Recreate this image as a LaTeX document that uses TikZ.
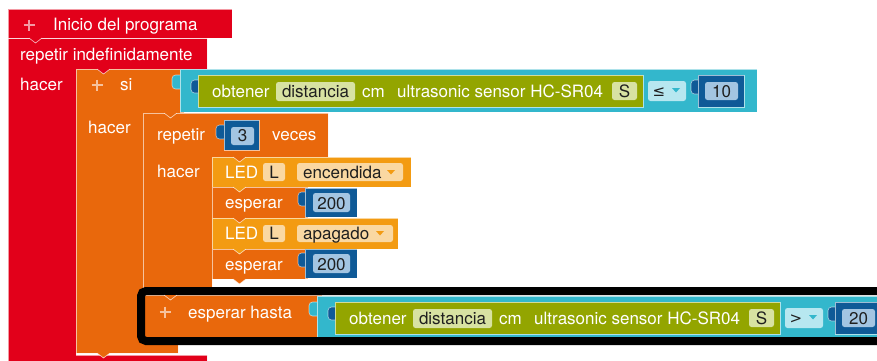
\documentclass[tikz,border=0pt]{standalone}
\usepackage{fontspec}
\setmainfont{TeX Gyre Heros}
\newfontfamily\symf{DejaVu Sans}
\definecolor{cRed}{HTML}{E2001A}
\definecolor{cOr}{HTML}{E9680C}
\definecolor{cLed}{HTML}{F39B12}
\definecolor{cCy}{HTML}{33B7CC}
\definecolor{cOl}{HTML}{93A500}
\definecolor{cBlue}{HTML}{0F5A97}
\definecolor{cOlF}{HTML}{D8E2A2}
\definecolor{cCyF}{HTML}{B7E7F0}
\definecolor{cBlueF}{HTML}{A3C5E2}
\definecolor{cLedF}{HTML}{FAD8A2}
\tikzset{
  blk/.style={line width=0.6pt, draw=white, draw opacity=0.6},
  wtxt/.style={anchor=base west, inner sep=0pt, text=white, font=\fontsize{17}{20}\selectfont},
  btxt/.style={anchor=base, inner sep=0pt, text=black!88, font=\fontsize{17}{20}\selectfont},
  fieldbox/.style={rounded corners=2.5pt},
}
\newcommand\vconn[3]{%
  \filldraw[fill=#3, draw=white, draw opacity=0.75, line width=0.6pt] (#1,#2) -- ++(6.5,5) -- ++(6.5,-5);}
\newcommand\plusmark[2]{%
  \draw[white, opacity=0.6, line width=2.4pt] (#1-5.5,#2) -- (#1+5.5,#2) (#1,#2-5.5) -- (#1,#2+5.5);}
\newcommand\ddarrow[3]{%
  \fill[#3] (#1-4,#2-2) -- (#1+4,#2-2) -- (#1,#2+2.5) -- cycle;}
\newcommand\sensorrow[5]{%
\begin{scope}[shift={(#1,#2)}]
  \filldraw[fill=cCy, blk, rounded corners=3.5pt] (172,75) rectangle (184,89);
  \filldraw[fill=cCy, blk] (180,69) rectangle (757,112);
  \filldraw[fill=cBlue, blk, rounded corners=3.5pt] (191,80) rectangle (202,93);
  \filldraw[fill=cOl, blk] (198,75) rectangle (643,107);
  \fill[cOlF, fieldbox] (276,82) rectangle (355,101);
  \fill[cOlF, fieldbox] (612,82) rectangle (637,100);
  \fill[cCyF, fieldbox] (648,81) rectangle (686,101);
  \ddarrow{676}{90}{cCy}
  \filldraw[fill=cBlue, blk, rounded corners=3.5pt] (691,80) rectangle (702,94);
  \filldraw[fill=cBlue, blk] (698,75) rectangle (744,107);
  \fill[cBlueF, fieldbox] (705,82) rectangle (738,100);
  \node[wtxt] (#5obt) at (212,97) {obtener};
  \node[btxt] (#5dist) at (315.5,97) {distancia};
  \node[wtxt] (#5cm) at (362,97) {cm};
  \node[wtxt] (#5us) at (397,97) {ultrasonic sensor HC-SR04};
  \node[btxt] (#5s) at (624.5,97) {S};
  \node[btxt, font=\symf\fontsize{15}{18}\selectfont] (#5op) at (659,96) {#3};
  \node[btxt] (#5num) at (721.5,97) {#4};
\end{scope}}
\begin{document}
\begin{tikzpicture}[x=1pt,y=-1pt]
\useasboundingbox (0,0) rectangle (877,360);
\clip (0,0) rectangle (877,360);
% red blocks
\filldraw[fill=cRed, blk] (8,38) -- (207,38) -- (207,69) -- (76,69) -- (76,355) -- (207,355) -- (207,380) -- (8,380) -- cycle;
\filldraw[fill=cRed, blk] (8,9) rectangle (232,38);
% si block
\filldraw[fill=cOr, blk] (76,69) -- (184,69) -- (184,113) -- (143,113) -- (143,340) -- (178,340) -- (178,353) -- (76,353) -- cycle;
% repetir block
\filldraw[fill=cOr, blk] (143,113) -- (328,113) -- (328,157) -- (212,157) -- (212,287) -- (250,287) -- (250,295) -- (143,295) -- cycle;
% value 3
\filldraw[fill=cBlue, blk, rounded corners=3.5pt] (216,125) rectangle (227,139);
\filldraw[fill=cBlue, blk] (224,120) rectangle (259,150);
\fill[cBlueF, fieldbox] (231,127) rectangle (254,145);
% LED / esperar blocks
\filldraw[fill=cLed, blk] (212,157) rectangle (411,187);
\filldraw[fill=cOr, blk] (212,187) rectangle (308,218);
\filldraw[fill=cLed, blk] (212,218) rectangle (398,249);
\filldraw[fill=cOr, blk] (212,249) rectangle (308,279);
\fill[cLedF, fieldbox] (263,163) rectangle (285,181);
\fill[cLedF, fieldbox] (297,163) rectangle (403,181);
\ddarrow{391}{172}{cLed}
\fill[cLedF, fieldbox] (263,225) rectangle (285,242);
\fill[cLedF, fieldbox] (297,225) rectangle (393,242);
\ddarrow{380}{233}{cLed}
\filldraw[fill=cBlue, blk, rounded corners=3.5pt] (298,192) rectangle (309,206);
\filldraw[fill=cBlue, blk] (305,188) rectangle (357,217);
\fill[cBlueF, fieldbox] (313,193) rectangle (350,212);
\filldraw[fill=cBlue, blk, rounded corners=3.5pt] (298,253) rectangle (309,267);
\filldraw[fill=cBlue, blk] (305,249) rectangle (357,278);
\fill[cBlueF, fieldbox] (313,254) rectangle (350,273);
% esperar hasta
\filldraw[fill=cOr, blk] (143,295) rectangle (322,340);
% sensor rows
\sensorrow{0}{0}{≤}{10}{ra}
\sensorrow{137}{227}{>}{20}{rb}
% frame
\draw[line width=8pt, rounded corners=5pt] (141,291) rectangle (905,341);
% connections
\vconn{29}{38}{cRed}
\vconn{97}{69}{cRed}
\vconn{164}{113}{cOr}
\vconn{233}{157}{cOr}
\vconn{233}{187}{cLed}
\vconn{233}{218}{cOr}
\vconn{233}{249}{cLed}
\vconn{233}{279}{cOr}
\vconn{164}{295}{cOr}
\vconn{97}{353}{cOr}
% plus marks
\plusmark{29}{25}
\plusmark{97}{85}
\plusmark{165}{312}
% texts
\node[wtxt] (tinicio) at (53,30) {Inicio del programa};
\node[wtxt] (trep) at (20,60) {repetir indefinidamente};
\node[wtxt] (thacer1) at (20,90) {hacer};
\node[wtxt] (tsi) at (120,90) {si};
\node[wtxt] (thacer2) at (88,133) {hacer};
\node[wtxt] (trepetir) at (157,140) {repetir};
\node[btxt] (tthree) at (242.5,141) {3};
\node[wtxt] (tveces) at (272,140) {veces};
\node[wtxt] (thacer3) at (157,177) {hacer};
\node[wtxt] (tled1) at (225,178) {LED};
\node[btxt] (tl1) at (274,178) {L};
\node[btxt, anchor=base west] (tenc) at (303,178) {encendida};
\node[wtxt] (tesp1) at (225,208) {esperar};
\node[btxt] (tv1) at (331.5,209) {200};
\node[wtxt] (tled2) at (225,239) {LED};
\node[btxt] (tl2) at (274,239) {L};
\node[btxt, anchor=base west] (tapa) at (303,239) {apagado};
\node[wtxt] (tesp2) at (225,270) {esperar};
\node[btxt] (tv2) at (331.5,270) {200};
\node[wtxt] (tesph) at (188,318) {esperar hasta};
\end{tikzpicture}
\end{document}
